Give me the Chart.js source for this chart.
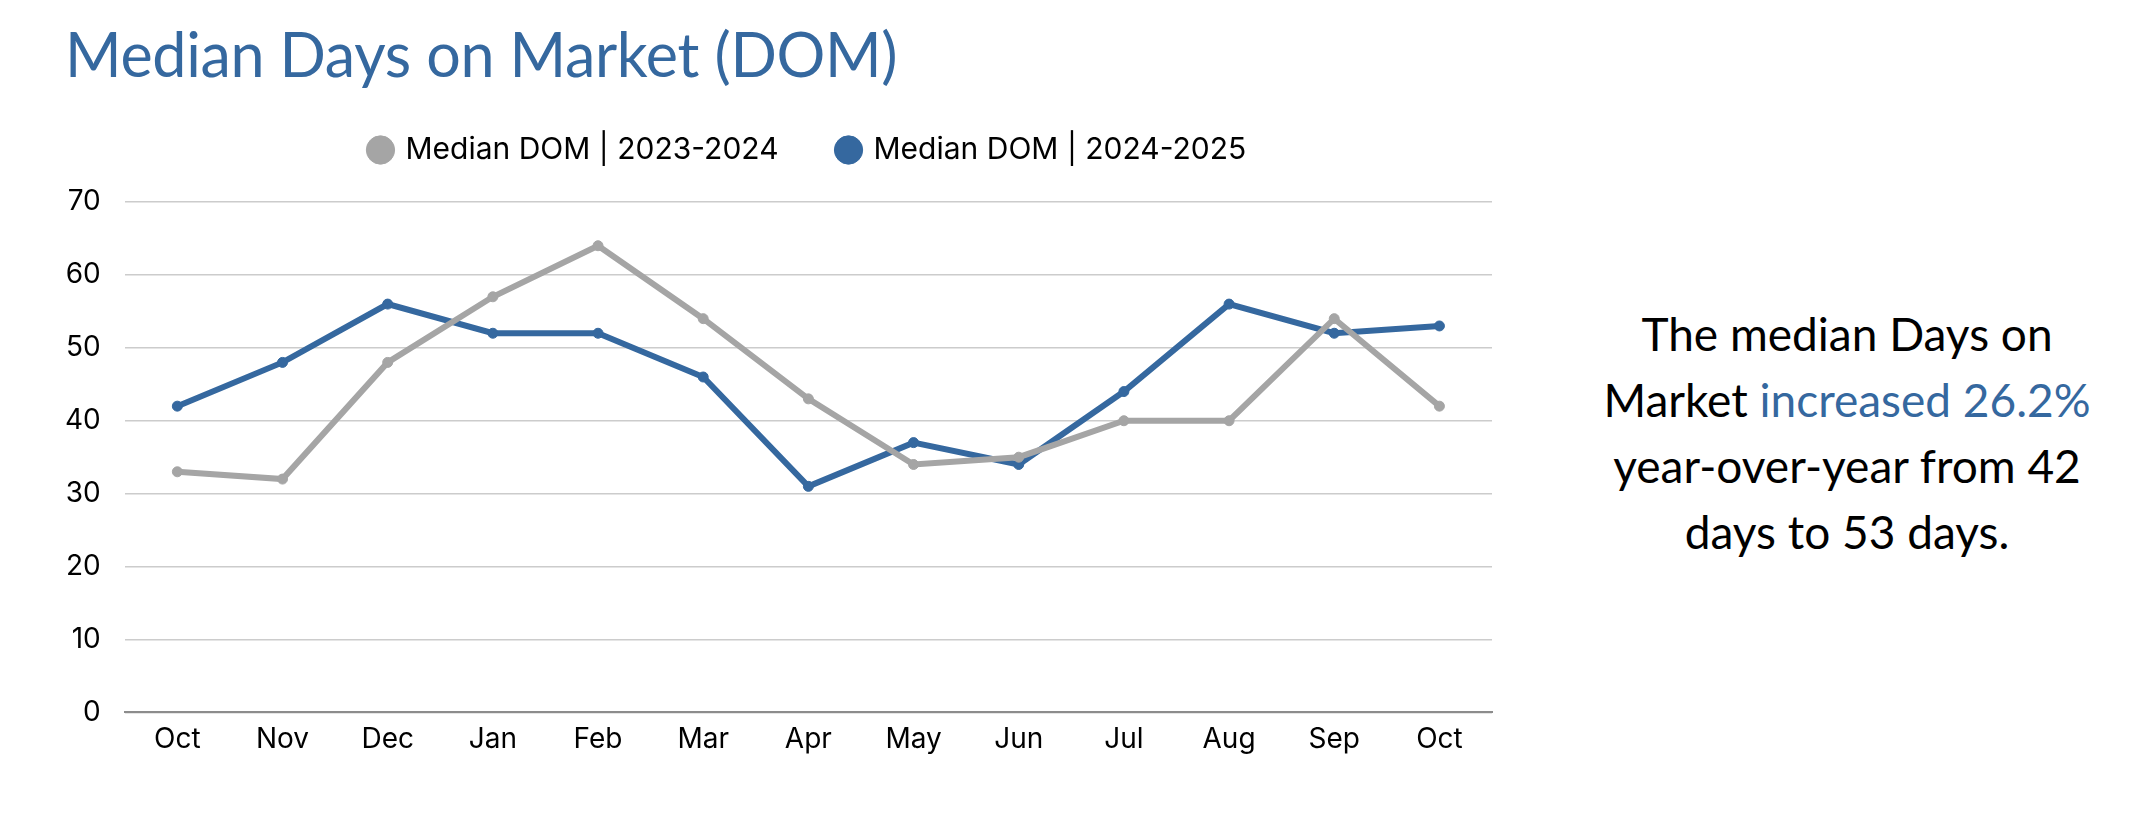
<!DOCTYPE html>
<html>

<head>
    <title>Median Days on Market (DOM)</title>
    <style>
        html, body {
            margin: 0;
            padding: 0;
            background: #ffffff;
        }

        body {
            position: relative;
            width: 2146px;
            height: 816px;
            overflow: hidden;
        }

        #title {
            position: absolute;
            left: 65px;
            top: 23px;
            margin: 0;
            font-family: Lato, "Noto Sans", sans-serif;
            font-weight: 400;
            font-size: 61px;
            letter-spacing: -0.3px;
            line-height: 1;
            color: #35689f;
            white-space: nowrap;
        }

        #note {
            position: absolute;
            left: 1547px;
            top: 301px;
            width: 600px;
            font-family: Lato, "Noto Sans", sans-serif;
            font-size: 46px;
            line-height: 66px;
            text-align: center;
            color: #000000;
        }

        #note .hl {
            color: #35689f;
        }

        #canvas-container {
            position: absolute;
            left: 0;
            top: 0;
            width: 1530px;
            height: 816px;
        }
    </style>
    <script src="https://cdn.jsdelivr.net/npm/chart.js"></script>
</head>

<body>
    <h1 id="title">Median Days on Market (DOM)</h1>
    <div id="note">The median Days on<br>Market <span class="hl">increased 26.2%</span><br>year-over-year from 42<br>days to 53 days.</div>
    <div id="canvas-container">
        <canvas id="myChart"></canvas>
    </div>

    <script>
        // Months, October to October
        const months = ['Oct', 'Nov', 'Dec', 'Jan', 'Feb', 'Mar', 'Apr', 'May', 'Jun', 'Jul', 'Aug', 'Sep', 'Oct'];

        // Median days on market per season
        const dom2324 = [33, 32, 48, 57, 64, 54, 43, 34, 35, 40, 40, 54, 42];
        const dom2425 = [42, 48, 56, 52, 52, 46, 31, 37, 34, 44, 56, 52, 53];

        const seriesNames = ['Median DOM | 2023-2024', 'Median DOM | 2024-2025'];

        const grey = '#a5a5a5';
        const blue = '#35689f';
        const tickFont = { family: 'Inter, "Noto Sans", sans-serif', size: 28 };

        // Push the plot down below the legend, and center the legend over the plot area
        const legendGap = {
            id: 'legendGap',
            beforeInit(chart) {
                const fit = chart.legend.fit;
                chart.legend.fit = function () {
                    fit.bind(chart.legend)();
                    this.height += 27;
                };
            },
            afterLayout(chart) {
                const lg = chart.legend;
                lg.left = chart.chartArea.left;
                lg.right = chart.chartArea.right;
                lg.width = lg.right - lg.left;
            }
        };

        const ctx = document.getElementById('myChart').getContext('2d');

        const myChart = new Chart(ctx, {
            type: 'line',
            data: {
                labels: months,
                datasets: [{
                    label: seriesNames[0],
                    data: dom2324,
                    borderColor: grey,
                    backgroundColor: grey,
                    borderWidth: 6,
                    pointRadius: 5,
                    pointBorderWidth: 1,
                    pointHoverRadius: 5,
                    tension: 0
                }, {
                    label: seriesNames[1],
                    data: dom2425,
                    borderColor: blue,
                    backgroundColor: blue,
                    borderWidth: 6,
                    pointRadius: 5,
                    pointBorderWidth: 1,
                    pointHoverRadius: 5,
                    tension: 0
                }]
            },
            options: {
                responsive: true,
                maintainAspectRatio: false,
                animation: false,
                layout: {
                    padding: { top: 75, left: 41, right: 38, bottom: 50 }
                },
                scales: {
                    x: {
                        offset: true,
                        grid: { display: false, drawTicks: false },
                        border: { display: true, color: '#8c8c8c', width: 2 },
                        ticks: { color: '#000000', font: tickFont, padding: 10 }
                    },
                    y: {
                        min: 0,
                        max: 70,
                        ticks: { stepSize: 10, color: '#000000', font: tickFont, padding: 24 },
                        grid: { color: '#cccccc', lineWidth: 1.5, drawTicks: false },
                        border: { display: false }
                    }
                },
                plugins: {
                    legend: {
                        position: 'top',
                        labels: {
                            usePointStyle: true,
                            pointStyle: 'circle',
                            boxWidth: 20,
                            boxHeight: 20,
                            padding: 60,
                            color: '#000000',
                            font: { family: 'Inter, "Noto Sans", sans-serif', size: 30 }
                        }
                    },
                    tooltip: { enabled: false }
                }
            },
            plugins: [legendGap]
        });
    </script>
</body>

</html>
